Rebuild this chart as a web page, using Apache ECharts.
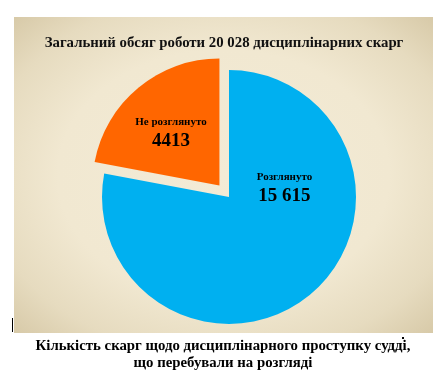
<!DOCTYPE html>
<html><head><meta charset="utf-8">
<script src="https://cdn.jsdelivr.net/npm/echarts@6/dist/echarts.min.js"></script>
<style>html,body{margin:0;padding:0;background:#fff}#c{width:441px;height:385px}</style>
</head><body><div id="c"></div>
<script>
const categories = ['Розглянуто', 'Не розглянуто'];
const values = [15615, 4413];
const valueLabels = ['15 615', '4413'];
const colors = ['#00b0f0', '#ff6600'];
const titleText = 'Загальний обсяг роботи 20 028 дисциплінарних скарг';
const captionText = 'Кількість скарг щодо дисциплінарного проступку судді,\nщо перебували на розгляді';

const serif = '"Liberation Serif", "DejaVu Serif", serif';
const chart = echarts.init(document.getElementById('c'));
const labelShift = [[13, -60], [-6, -1]];
chart.setOption({
  backgroundColor: '#ffffff',
  animation: false,
  graphic: [
    {
      type: 'rect', z: -10, silent: true,
      x: 14, y: 17, scaleX: 419 / 316,
      shape: { x: 0, y: 0, width: 316, height: 316 },
      style: {
        fill: new echarts.graphic.RadialGradient(0.5, 0.5, 0.72, [
          { offset: 0, color: '#f3ebd6' },
          { offset: 0.55, color: '#f1e8d1' },
          { offset: 0.8, color: '#e6dbbf' },
          { offset: 1, color: '#d6c8a6' }
        ])
      }
    },
    { type: 'rect', silent: true, shape: { x: 12, y: 318, width: 1, height: 14 }, style: { fill: '#000' } },
    { type: 'rect', silent: true, shape: { x: 402, y: 337, width: 2, height: 2 }, style: { fill: '#000' } }
  ],
  title: [
    { text: titleText, left: 219, top: 31, textAlign: 'center',
      textStyle: { fontFamily: serif, fontWeight: 'bold', fontSize: 14.8, color: '#111' } },
    { text: captionText, left: 218, top: 333, textAlign: 'center',
      textStyle: { fontFamily: serif, fontWeight: 'bold', fontSize: 14.8, lineHeight: 17, color: '#000' } }
  ],
  series: [{
    type: 'pie',
    center: [229, 197],
    radius: 127,
    startAngle: 90,
    clockwise: true,
    selectedMode: 'single',
    selectedOffset: 15,
    silent: true,
    data: categories.map((n, i) => ({
      name: n, value: values[i], selected: i === 1,
      itemStyle: { color: colors[i] }
    })),
    label: {
      show: true, position: 'inside',
      formatter: p => '{a|' + p.name + '}\n{b|' + valueLabels[p.dataIndex] + '}',
      rich: {
        a: { fontFamily: serif, fontWeight: 'bold', fontSize: 11, color: '#000', lineHeight: 16 },
        b: { fontFamily: serif, fontWeight: 'bold', fontSize: 19, color: '#000', lineHeight: 22 }
      }
    },
    labelLayout: p => ({ dx: labelShift[p.dataIndex][0], dy: labelShift[p.dataIndex][1] }),
    labelLine: { show: false }
  }]
});
</script></body></html>
